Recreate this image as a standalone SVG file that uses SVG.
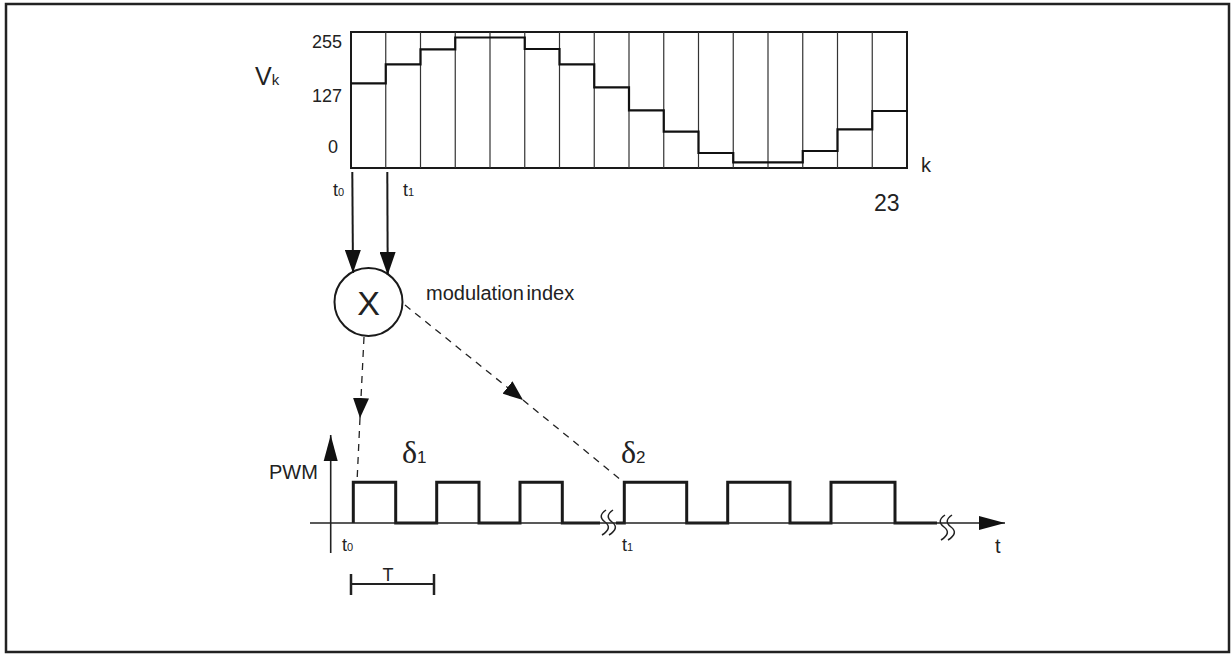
<svg xmlns="http://www.w3.org/2000/svg" width="1231" height="654" viewBox="0 0 1231 654">
<style>
text{font-family:"Liberation Sans",Arial,sans-serif;fill:#222}
.ser{font-family:"Liberation Serif","Times New Roman",serif}
.thin{fill:none;stroke:#333;stroke-width:1.2}
.solid{fill:none;stroke:#1a1a1a;stroke-width:2}
.dash{fill:none;stroke:#222;stroke-width:1.3;stroke-dasharray:7 6}
.wave{fill:none;stroke:#1a1a1a;stroke-width:3;stroke-linejoin:miter}
.brk{fill:none;stroke:#222;stroke-width:1.5}
</style>
<defs>
<marker id="arS" markerUnits="userSpaceOnUse" markerWidth="24" markerHeight="16" refX="23" refY="8" orient="auto"><path d="M0,0 L23,8 L0,16 z" fill="#111"/></marker>
<marker id="arD" markerUnits="userSpaceOnUse" markerWidth="21" markerHeight="16" refX="20" refY="8" orient="auto"><path d="M0,0 L20,8 L0,16 z" fill="#111"/></marker>
<marker id="arA" markerUnits="userSpaceOnUse" markerWidth="27" markerHeight="16" refX="26" refY="8" orient="auto"><path d="M0,1 L26,8 L0,15 z" fill="#111"/></marker>
</defs>
<rect x="6" y="4" width="1223" height="648" fill="none" stroke="#222" stroke-width="2.5"/>

<g id="chart">
<rect x="351" y="32" width="556" height="136" fill="none" stroke="#1a1a1a" stroke-width="2"/>
<path class="thin" d="M385.75,32V168M420.5,32V168M455.25,32V168M490,32V168M524.75,32V168M559.5,32V168M594.25,32V168M629,32V168M663.75,32V168M698.5,32V168M733.25,32V168M768,32V168M802.75,32V168M837.5,32V168M872.25,32V168"/>
<path fill="none" stroke="#111" stroke-width="2.2" d="M351,83.3 H385.75 V64.3 H420.5 V49.3 H455.25 V37.5 H524.75 V49 H559.5 V64.3 H594.25 V87.3 H629 V110.3 H663.75 V131.7 H698.5 V153 H733.25 V162.3 H802.75 V151 H837.5 V129.3 H872.25 V111 H908"/>
<text x="342" y="48" font-size="18" text-anchor="end">255</text>
<text x="342" y="102" font-size="18" text-anchor="end">127</text>
<text x="338" y="153" font-size="18" text-anchor="end">0</text>
<text x="255" y="85" font-size="25">V<tspan font-size="15">k</tspan></text>
<text x="921" y="172" font-size="20">k</text>
<text x="874" y="211" font-size="23">23</text>
<text x="333" y="196" font-size="18">t<tspan font-size="11">0</tspan></text>
<text x="403" y="196" font-size="18">t<tspan font-size="11">1</tspan></text>
</g>

<g id="multiplier">
<circle cx="368.5" cy="302" r="34" fill="#fff" stroke="#1a1a1a" stroke-width="2"/>
<text x="368.5" y="315" font-size="34" text-anchor="middle">X</text>
<text x="426" y="300" font-size="20" word-spacing="-3">modulation index</text>
</g>

<g id="pwm">
<path class="wave" d="M353.3,523 V482.3 H395.7 V523 H436.7 V482.3 H479 V523 H520 V482.3 H562.3 V523 H600 M616,523 H624.3 V482.3 H686.7 V523 H727.7 V482.3 H790 V523 H831 V482.3 H895 V523 H937"/>
<path class="brk" d="M606,510 q-9,6 -1,12 q8,6 -3,13 M613,510 q-9,6 -1,12 q8,6 -3,13"/>
<path class="brk" d="M945,515 q-9,6 -1,12 q8,6 -3,13 M952,515 q-9,6 -1,12 q8,6 -3,13"/>
<text x="269" y="479" font-size="20">PWM</text>
<text x="402" y="463" font-size="32" class="ser">δ<tspan font-size="17" font-family="Liberation Sans, Arial, sans-serif">1</tspan></text>
<text x="621" y="463" font-size="32" class="ser">δ<tspan font-size="17" font-family="Liberation Sans, Arial, sans-serif">2</tspan></text>
<text x="342" y="551" font-size="18">t<tspan font-size="11">0</tspan></text>
<text x="622" y="551" font-size="18">t<tspan font-size="11">1</tspan></text>
<text x="995" y="553" font-size="20">t</text>
</g>

<g id="period">
<path stroke="#222" stroke-width="2" d="M351,584 H434"/>
<path stroke="#222" stroke-width="2.5" d="M351,574 V595 M434,574 V595"/>
<text x="388" y="581" font-size="18" text-anchor="middle">T</text>
</g>

<g id="connectors">
<line class="solid" x1="352.3" y1="172" x2="353" y2="273" marker-end="url(#arS)"/>
<line class="solid" x1="387.3" y1="172" x2="387.7" y2="275" marker-end="url(#arS)"/>
<line class="dash" x1="364" y1="337" x2="360" y2="418" marker-end="url(#arD)"/>
<line class="dash" x1="360" y1="418" x2="357" y2="482"/>
<line class="dash" x1="405" y1="305" x2="523" y2="400" marker-end="url(#arD)"/>
<line class="dash" x1="523" y1="400" x2="621" y2="480"/>
<line stroke="#222" stroke-width="1.6" x1="330.7" y1="553" x2="330.7" y2="435" marker-end="url(#arA)"/>
<line stroke="#222" stroke-width="1.6" x1="310" y1="523" x2="1005" y2="523" marker-end="url(#arA)"/>
</g>
</svg>
